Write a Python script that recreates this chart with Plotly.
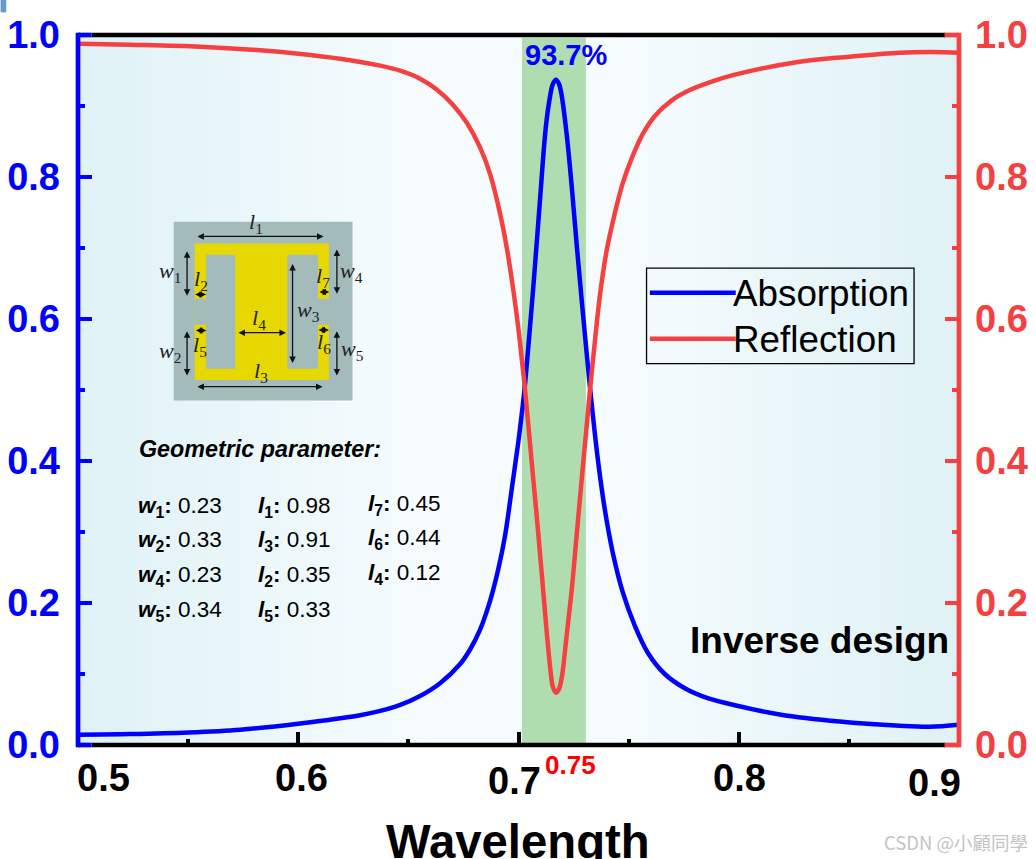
import plotly.graph_objects as go

# ---------- data ----------
abs_wl = [.5002,.5238,.5501,.5737,.6000,.6281,.6372,.6463,.6553,.6644,.6735,.6780,.6825,.6871,.6907,.6939,.6970,.6998,.7020,.7029,.7052,.7070,.7097,.7124,.7143,.7156,.7170,.7184,.7197,.7220,.7243,.7265,.7288,.7311,.7333,.7360,.7392,.7428,.7474,.7528,.7587,.7664,.7755,.7859,.7982,.8186,.8458,.8730,.8866,.9000]
abs_val = [.0145,.0155,.0177,.0216,.0300,.0420,.0480,.0565,.0690,.0870,.1140,.1345,.1620,.2030,.2460,.2950,.3620,.4240,.4800,.5060,.5880,.6560,.7650,.8700,.9130,.9310,.9370,.9310,.9130,.8568,.7821,.7018,.6229,.5469,.4780,.4030,.3314,.2708,.2145,.1680,.1300,.1000,.0800,.0660,.0560,.0430,.0330,.0272,.0258,.0286]
ref_wl = [.5002,.5238,.5555,.5828,.6000,.6190,.6372,.6463,.6553,.6630,.6703,.6766,.6825,.6871,.6916,.6948,.6975,.6998,.7020,.7029,.7061,.7084,.7106,.7129,.7147,.7156,.7170,.7184,.7197,.7220,.7243,.7265,.7288,.7311,.7324,.7347,.7370,.7401,.7438,.7474,.7519,.7565,.7619,.7696,.7768,.7877,.7982,.8276,.8503,.8730,.8934,.9000]
ref_val = [.9878,.9863,.9835,.9785,.9737,.9666,.9568,.9497,.9384,.9229,.9015,.8760,.8420,.8040,.7490,.6980,.6440,.5900,.5290,.5030,.3950,.3180,.2400,.1560,.1000,.0820,.0737,.0790,.0962,.1582,.2230,.2990,.3779,.4539,.4980,.5690,.6340,.6976,.7497,.7920,.8300,.8610,.8860,.9080,.9210,.9342,.9441,.9624,.9694,.9751,.9758,.9751]
band = [0.7016, 0.7306]
x_major = [0.5, 0.6, 0.7, 0.8, 0.9]
x_minor = [0.55, 0.65, 0.75, 0.85]
y_major = [0, 0.2, 0.4, 0.6, 0.8, 1.0]
y_minor = [0.1, 0.3, 0.5, 0.7, 0.9]
param_rows = [
    [("w", "1", "0.23"), ("l", "1", "0.98"), ("l", "7", "0.45")],
    [("w", "2", "0.33"), ("l", "3", "0.91"), ("l", "6", "0.44")],
    [("w", "4", "0.23"), ("l", "2", "0.35"), ("l", "4", "0.12")],
    [("w", "5", "0.34"), ("l", "5", "0.33")],
]

BLUE, RED, FONT = "#0000FF", "#F44040", "Liberation Sans"
L, R, T, B = 77.5, 959.5, 35.3, 745.3
W, H = 1036, 859
def px(x): return (x - L) / (R - L)
def py(y): return (B - y) / (B - T)

fig = go.Figure()
fig.add_trace(go.Scatter(x=abs_wl, y=abs_val, name="Absorption", mode="lines", showlegend=False,
                         line=dict(color=BLUE, width=4.5, shape="spline", smoothing=1)))
fig.add_trace(go.Scatter(x=ref_wl, y=ref_val, name="Reflection", mode="lines", yaxis="y2", showlegend=False,
                         line=dict(color=RED, width=4.5, shape="spline", smoothing=1)))

shapes, ann = [], []
# background gradient
n = 60
for i in range(n):
    t = abs((i + 0.5) / n - 0.5) * 2
    t = min(1, max(0, (t - 0.2) / 0.75))
    c = [round(a + (b - a) * t) for a, b in zip((0xF6, 0xFC, 0xFE), (0xE0, 0xF2, 0xF6))]
    shapes.append(dict(type="rect", xref="paper", yref="paper", x0=i / n, x1=(i + 1) / n + .001,
                       y0=0, y1=1, layer="below", line_width=0, fillcolor=f"rgb({c[0]},{c[1]},{c[2]})"))
shapes.append(dict(type="rect", xref="x", yref="paper", x0=band[0], x1=band[1], y0=0, y1=0.996,
                   layer="below", line_width=0, fillcolor="#B0DDB0"))
# corner artefact
shapes.append(dict(type="rect", xref="paper", yref="paper", x0=px(0), x1=px(5.7), y0=py(0), y1=py(12.7),
                   line_width=0, fillcolor="#6699CC"))

# frame: black top and bottom meet the coloured end ticks of the two value axes
for x0, y0, x1, y1, c in [(91, B, 946, B, "#000000"), (91, T, 946, T, "#000000"),
                          (L, T, 91, T, BLUE), (L, B, 91, B, BLUE),
                          (945, T, R, T, RED), (945, B, R, B, RED),
                          (L, T - 2.35, L, B + 2.35, BLUE), (R, T - 2.35, R, B + 2.35, RED)]:
    shapes.append(dict(type="line", xref="paper", yref="paper", x0=px(x0), x1=px(x1), y0=py(y0), y1=py(y1),
                       line=dict(color=c, width=4.7)))

def rect(x0, y0, x1, y1, c):
    shapes.append(dict(type="rect", xref="paper", yref="paper", x0=px(x0), x1=px(x1), y0=py(y0), y1=py(y1),
                       line_width=0, fillcolor=c))
GREY, YEL = "#A3BBBB", "#E6D800"
rect(173.3, 222, 352.3, 400.7, GREY)
rect(194.3, 243.7, 328.7, 380.3, YEL)
rect(205.7, 255, 235, 369, GREY)
rect(287, 255, 317.7, 369, GREY)
rect(194.3, 299, 206, 325, GREY)
rect(317, 299, 328.7, 325, GREY)

def text(x, y, s, size, color="#000000", family=FONT, anchor="center"):
    ann.append(dict(xref="paper", yref="paper", x=px(x), y=py(y), text=s, showarrow=False,
                    xanchor=anchor, yanchor="middle", font=dict(size=size, color=color, family=family)))

def arrow(x0, y0, x1, y1):
    ann.append(dict(xref="paper", yref="paper", x=px(x1), y=py(y1), axref="pixel", ayref="pixel",
                    ax=x0 - x1, ay=y0 - y1, text="", showarrow=True, arrowhead=2, startarrowhead=2,
                    arrowside="end+start", arrowwidth=1.3, arrowsize=1, startarrowsize=1, arrowcolor="#111111",
                    standoff=0, startstandoff=0))

SERIF = "Liberation Serif"
for lab, x, y, ar in [
    ("l|1", 256, 223, (195.7, 236.7, 323.3, 236.7)),
    ("w|1", 170, 272.7, (186.7, 250, 186.7, 296)),
    ("l|2", 200.7, 280, (193.3, 294.7, 205.7, 294.7)),
    ("w|2", 170, 352.7, (186.7, 330, 186.7, 375.7)),
    ("l|5", 200, 346.7, (194, 330.7, 206, 330.7)),
    ("l|4", 259, 319, (236.7, 333, 285.7, 333)),
    ("w|3", 308, 311.7, (292.3, 262.7, 292.3, 363.3)),
    ("l|7", 323, 277, (317.7, 292.3, 329, 292.3)),
    ("w|4", 351, 272.7, (336.7, 248.3, 336.7, 294)),
    ("l|6", 324, 343, (316.7, 330.3, 328.7, 330.3)),
    ("w|5", 352, 350, (336.7, 330, 336.7, 375.7)),
    ("l|3", 260.7, 372, (195.7, 387, 322.3, 387)),
]:
    a, b = lab.split("|")
    text(x, y, f"<i>{a}</i><sub>{b}</sub>", 22, "#222222", SERIF)
    arrow(*ar)

# parameter table
text(136.5, 449, "<b><i>Geometric parameter:</i></b>", 23.3, anchor="left")
col_x = [135.5, 255.5, 365.5]
row_y = [507, 541, 576, 611]
for r, row in enumerate(param_rows):
    for c, (a, b, v) in enumerate(row):
        y = row_y[r] - (2 if c == 2 else 0)
        text(col_x[c], y, f"<b><i>{a}</i><sub>{b}</sub>:</b> {v}", 22.5, anchor="left")

# legend box drawn to the reference's size
shapes.append(dict(type="rect", xref="paper", yref="paper", x0=px(646.7), x1=px(914.5), y0=py(268.5), y1=py(364),
                   line=dict(color="#000000", width=1.3), fillcolor="rgba(0,0,0,0)"))
for name, color, y in [("Absorption", BLUE, 293), ("Reflection", RED, 339)]:
    shapes.append(dict(type="line", xref="paper", yref="paper", x0=px(650), x1=px(736), y0=py(y), y1=py(y),
                       line=dict(color=color, width=4.5)))
    text(731.5, y + 0.5, name, 36.8, anchor="left")

# x tick labels
for v, x, y in zip(x_major, [103, 301, 514, 740, 935], [778, 778, 781, 778, 783]):
    text(x, y, f"<b>{v:.1f}</b>", 38)
text(571, 765, "<b>0.75</b>", 26, "#FF0000")
text(518, 842, "<b>Wavelength</b>", 47.3)
text(566, 55, "<b>93.7%</b>", 29, BLUE)
text(820, 641, "<b>Inverse design</b>", 37)
text(882, 842, "CSDN @小顧同學", 18.5, "#C4C4C4", "Noto Sans CJK TC", anchor="left")

tick = dict(ticks="inside", tickwidth=4, showline=False, automargin=False,
            showgrid=False, zeroline=False, range=[0, 1], tickvals=y_major, tickformat=".1f")
fig.update_layout(
    width=W, height=H, autosize=False,
    margin=dict(l=L, r=W - R, t=T, b=H - B, pad=0),
    paper_bgcolor="white", plot_bgcolor="rgba(0,0,0,0)",
    font=dict(family=FONT), showlegend=False,
    shapes=shapes, annotations=ann,
    xaxis=dict(range=[0.5, 0.9], automargin=False, showgrid=False, zeroline=False, showline=False,
               ticks="inside", ticklen=13, tickwidth=4, tickcolor="#000000", tickvals=x_major,
               showticklabels=False,
               minor=dict(tickvals=x_minor, ticks="inside", ticklen=6.5, tickwidth=4, tickcolor="#000000")),
    yaxis=dict(**tick, side="left", ticklen=13.5, tickcolor=BLUE, ticklabelstandoff=17,
               tickfont=dict(size=38, color=BLUE, family=FONT, weight="bold"),
               minor=dict(tickvals=y_minor, ticks="inside", ticklen=6.5, tickwidth=4, tickcolor=BLUE)),
    yaxis2=dict(**tick, side="right", overlaying="y", ticklen=14.5, tickcolor=RED, ticklabelstandoff=15,
                tickfont=dict(size=38, color=RED, family=FONT, weight="bold"),
                minor=dict(tickvals=y_minor, ticks="inside", ticklen=7.5, tickwidth=4, tickcolor=RED)),
)
fig.write_html("out.html", config={"displayModeBar": False},
               post_script="document.body.style.margin='0';document.body.style.overflow='hidden';")
